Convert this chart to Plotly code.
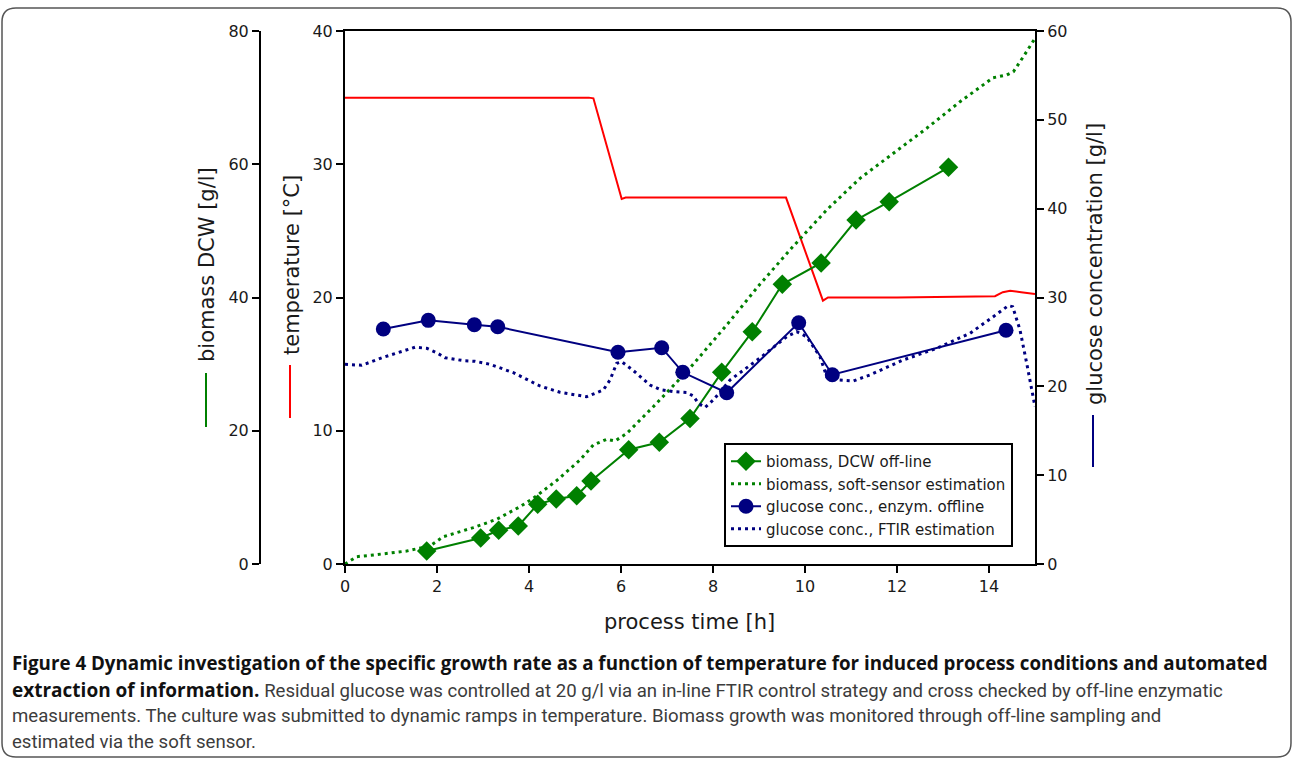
import plotly.graph_objects as go

W, H = 1293, 761

# ---------------- data ----------------
temp_time = [0, 1.0, 2.0, 2.1, 3.5, 5.3, 5.40, 6.015, 6.1, 8.0, 9.587, 10.39, 10.5, 12.0, 14.0, 14.13, 14.3, 14.46, 14.7, 15.0]
temp_val = [35.0, 35.0, 35.0, 35.05, 35.0, 35.0, 34.95, 27.4, 27.5, 27.5, 27.5, 19.76, 20.0, 20.0, 20.05, 20.1, 20.4, 20.5, 20.4, 20.26]

dcw_time = [1.776, 2.950, 3.341, 3.767, 4.189, 4.593, 5.037, 5.348, 6.167, 6.833, 7.50, 8.189, 8.854, 9.507, 10.35, 11.11, 11.83, 13.12]
dcw_val = [1.95, 3.90, 5.06, 5.70, 8.96, 9.76, 10.25, 12.46, 17.16, 18.27, 21.84, 28.77, 34.87, 41.98, 45.18, 51.63, 54.38, 59.54]

soft_time = [0, 0.254, 0.615, 1.341, 1.848, 2.137, 2.789, 3.298, 3.804, 4.093, 4.602, 5.109, 5.398, 5.689, 5.87, 6.124,
             6.702, 7.463, 8.298, 9.02, 9.746, 10.47, 11.196, 11.92, 12.646, 13.37, 14.09, 14.385, 14.53, 14.746, 15.0]
soft_val = [0, 1.10, 1.35, 1.95, 2.70, 4.10, 5.45, 6.71, 8.60, 9.86, 12.53, 15.61, 17.86, 18.72, 18.46, 19.59,
            23.61, 29.12, 35.87, 42.0, 47.7, 53.13, 57.89, 61.64, 65.40, 69.39, 72.99, 73.40, 73.89, 76.14, 78.9]

glc_time = [0.833, 1.811, 2.811, 3.320, 5.935, 6.885, 7.343, 8.298, 9.863, 10.593, 14.37]
glc_val = [26.45, 27.43, 26.94, 26.71, 23.83, 24.35, 21.58, 19.28, 27.16, 21.31, 26.31]

ftir_time = [0, 0.363, 0.833, 1.267, 1.522, 1.776, 1.993, 2.174, 2.572, 2.826, 3.152, 3.659, 4.239, 4.674, 5.254,
             5.615, 5.761, 5.906, 6.015, 6.267, 6.630, 6.848, 7.137, 7.428, 7.572, 7.680, 7.826, 8.007, 8.370,
             9.022, 9.602, 9.82, 10.037, 10.326, 10.472, 10.724, 11.05, 11.41, 12.137, 12.863, 13.587, 14.093,
             14.42, 14.515, 14.674, 14.82, 15.0]
ftir_val = [22.48, 22.37, 23.27, 24.01, 24.40, 24.28, 23.79, 23.22, 22.89, 22.82, 22.48, 21.54, 20.04, 19.33, 18.83,
            19.59, 20.71, 22.59, 22.77, 21.78, 20.15, 19.64, 19.40, 19.31, 18.91, 18.09, 17.62, 18.46, 20.71,
            23.19, 25.59, 26.15, 25.59, 23.34, 21.09, 20.71, 20.60, 21.28, 22.97, 24.28, 25.97, 27.84,
            29.08, 28.97, 26.34, 22.59, 17.71]

x_ticks = [0, 2, 4, 6, 8, 10, 12, 14]
temp_ticks = [0, 10, 20, 30, 40]
bio_ticks = [0, 20, 40, 60, 80]
glc_ticks = [0, 10, 20, 30, 40, 50, 60]

GREEN = "#008000"
NAVY = "#000080"
RED = "#ff0000"
FONT = "DejaVu Sans"


def px(x):
    return x / W


def py(y):
    return (H - y) / H


fig = go.Figure()

fig.add_trace(go.Scatter(x=temp_time, y=temp_val, mode="lines", line=dict(color=RED, width=2),
                         yaxis="y", showlegend=False))
fig.add_trace(go.Scatter(x=dcw_time, y=dcw_val, mode="lines+markers", name="biomass, DCW off-line",
                         line=dict(color=GREEN, width=2), marker=dict(symbol="diamond", size=15, color=GREEN),
                         yaxis="y2"))
fig.add_trace(go.Scatter(x=soft_time, y=soft_val, mode="lines", name="biomass, soft-sensor estimation",
                         line=dict(color=GREEN, width=3, dash="3px,4px"), yaxis="y2"))
fig.add_trace(go.Scatter(x=glc_time, y=glc_val, mode="lines+markers", name="glucose conc., enzym. offline",
                         line=dict(color=NAVY, width=2), marker=dict(symbol="circle", size=15, color=NAVY),
                         yaxis="y3"))
fig.add_trace(go.Scatter(x=ftir_time, y=ftir_val, mode="lines", name="glucose conc., FTIR estimation",
                         line=dict(color=NAVY, width=3, dash="3px,4px"), yaxis="y3"))

xdom = [px(345), px(1035)]
ydom = [py(564), py(31)]
axis_common = dict(showgrid=False, zeroline=False, showline=True, linecolor="black", linewidth=2,
                   ticks="outside", ticklen=7, tickwidth=2, tickcolor="black", automargin=False,
                   tickfont=dict(family=FONT, size=16, color="#1a1a1a"))

fig.update_layout(
    width=W, height=H,
    margin=dict(l=0, r=0, t=0, b=0, pad=0, autoexpand=False),
    paper_bgcolor="white", plot_bgcolor="white",
    font=dict(family=FONT, color="#1a1a1a"),
    xaxis=dict(domain=xdom, range=[0, 15], tickvals=x_ticks, mirror=True, anchor="y", **axis_common),
    yaxis=dict(domain=ydom, range=[0, 40], tickvals=temp_ticks, anchor="x", **axis_common),
    yaxis2=dict(range=[0, 80], tickvals=bio_ticks, overlaying="y", anchor="free", side="left",
                position=px(260), **axis_common),
    yaxis3=dict(range=[0, 60], tickvals=glc_ticks, overlaying="y", anchor="x", side="right", **axis_common),
    legend=dict(x=px(724), y=py(443), xanchor="left", yanchor="top", bordercolor="black", borderwidth=2,
                bgcolor="white", font=dict(family=FONT, size=15, color="#1a1a1a"), tracegroupgap=0),
)

annotations = [
    dict(text="process time [h]", x=px(690), y=py(622), xref="paper", yref="paper", showarrow=False,
         xanchor="center", yanchor="middle", font=dict(family=FONT, size=21, color="#1a1a1a")),
    dict(text="biomass DCW [g/l]", x=px(207), y=py(265), xref="paper", yref="paper", showarrow=False,
         textangle=-90, xanchor="center", yanchor="middle", font=dict(family=FONT, size=21, color="#1a1a1a")),
    dict(text="temperature [°C]", x=px(292), y=py(265), xref="paper", yref="paper", showarrow=False,
         textangle=-90, xanchor="center", yanchor="middle", font=dict(family=FONT, size=21, color="#1a1a1a")),
    dict(text="glucose concentration [g/l]", x=px(1095), y=py(264), xref="paper", yref="paper", showarrow=False,
         textangle=-90, xanchor="center", yanchor="middle", font=dict(family=FONT, size=21, color="#1a1a1a")),
]

BOLD_FONT = "Open Sans, sans-serif"
REG_FONT = "Roboto, sans-serif"
cap_lines = [
    ("<b>Figure 4 Dynamic investigation of the specific growth rate as a function of temperature for induced process conditions and automated</b>",
     BOLD_FONT, 18.75, "#111111"),
    ("<b><span style=\"font-family:Open Sans;font-size:19px;color:#111111\">extraction of information.</span></b>"
     " Residual glucose was controlled at 20 g/l via an in-line FTIR control strategy and cross checked by off-line enzymatic",
     REG_FONT, 18.6, "#3c3c3c"),
    ("measurements. The culture was submitted to dynamic ramps in temperature. Biomass growth was monitored through off-line sampling and",
     REG_FONT, 18.6, "#3c3c3c"),
    ("estimated via the soft sensor.", REG_FONT, 18.6, "#3c3c3c"),
]
cap_y = [662, 690, 716, 742]
for (t, fam, sz, col), yy in zip(cap_lines, cap_y):
    annotations.append(dict(text=t, x=px(10), y=py(yy), xref="paper", yref="paper", showarrow=False,
                            xanchor="left", yanchor="middle", align="left",
                            font=dict(family=fam, size=sz, color=col)))

fig.update_layout(annotations=annotations)

shapes = [
    dict(type="line", xref="paper", yref="paper", x0=px(206), x1=px(206), y0=py(373), y1=py(427),
         line=dict(color=GREEN, width=2)),
    dict(type="line", xref="paper", yref="paper", x0=px(290), x1=px(290), y0=py(365), y1=py(418),
         line=dict(color=RED, width=2)),
    dict(type="line", xref="paper", yref="paper", x0=px(1093), x1=px(1093), y0=py(415), y1=py(467),
         line=dict(color=NAVY, width=2)),
]

# rounded frame around figure + caption
L, R, T, B, r = 2, 1291, 8, 757, 14
pts = [
    ("M", [(L + r, T)]), ("L", [(R - r, T)]), ("Q", [(R, T), (R, T + r)]), ("L", [(R, B - r)]),
    ("Q", [(R, B), (R - r, B)]), ("L", [(L + r, B)]), ("Q", [(L, B), (L, B - r)]), ("L", [(L, T + r)]),
    ("Q", [(L, T), (L + r, T)]),
]
path = ""
for cmd, ps in pts:
    path += cmd + " " + " ".join(f"{px(a):.5f},{py(b):.5f}" for a, b in ps) + " "
path += "Z"
shapes.append(dict(type="path", xref="paper", yref="paper", path=path, line=dict(color="#555555", width=1.5),
                   fillcolor="rgba(0,0,0,0)", layer="below"))
fig.update_layout(shapes=shapes)

fig.write_html("out.html")
